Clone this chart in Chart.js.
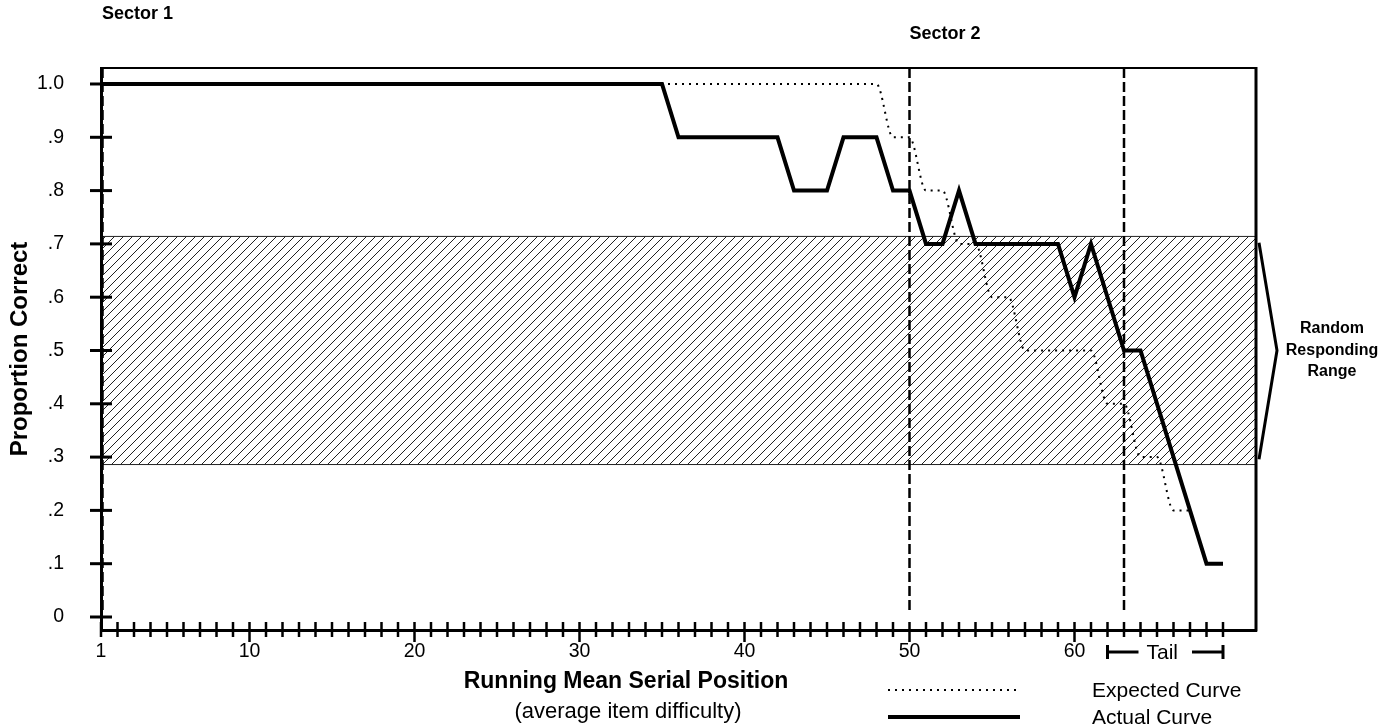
<!DOCTYPE html>
<html>
<head>
<meta charset="utf-8">
<script src="https://cdn.jsdelivr.net/npm/chart.js@4.4.0/dist/chart.umd.min.js"></script>
<style>
html, body { margin: 0; padding: 0; background: #fff; }
#chart { display: block; }
</style>
</head>
<body>
<canvas id="chart" width="1394" height="728"></canvas>
<script>
// curve vertices: running mean serial position -> proportion correct
var actualX = [1, 35, 36, 42, 43, 45, 46, 48, 49, 50, 51, 52, 53, 54, 59, 60, 61, 63, 64, 68, 69];
var actualY = [1.0, 1.0, 0.9, 0.9, 0.8, 0.8, 0.9, 0.9, 0.8, 0.8, 0.7, 0.7, 0.8, 0.7, 0.7, 0.6, 0.7, 0.5, 0.5, 0.1, 0.1];
var expectedX = [1, 48, 49, 50, 51, 52, 53, 54, 55, 56, 57, 61, 62, 63, 64, 65, 66, 67];
var expectedY = [1.0, 1.0, 0.9, 0.9, 0.8, 0.8, 0.7, 0.7, 0.6, 0.6, 0.5, 0.5, 0.4, 0.4, 0.3, 0.3, 0.2, 0.2];

var sectorLines = [1, 50, 63];
var sectorNames = ['Sector 1', 'Sector 2'];
var randomRange = [0.286, 0.714];
var tailRange = [62, 69];

var xTickLabels = [1, 10, 20, 30, 40, 50, 60];
var xLastTick = 69;
var yTickValues = [0, 0.1, 0.2, 0.3, 0.4, 0.5, 0.6, 0.7, 0.8, 0.9, 1.0];
var yTickLabels = ['0', '.1', '.2', '.3', '.4', '.5', '.6', '.7', '.8', '.9', '1.0'];

function toPoints(xs, ys) {
    return xs.map(function (x, i) { return { x: x, y: ys[i] }; });
}

var hatch = (function () {
    var c = document.createElement('canvas');
    c.width = 9; c.height = 9;
    var g = c.getContext('2d');
    g.strokeStyle = '#222';
    g.lineWidth = 1;
    g.beginPath();
    g.moveTo(-1, 10); g.lineTo(10, -1);
    g.moveTo(-1, 1); g.lineTo(1, -1);
    g.moveTo(8, 10); g.lineTo(10, 8);
    g.stroke();
    return c;
})();

var FONT = 'Liberation Sans, Arial, Helvetica, sans-serif';
Chart.defaults.font.family = FONT;
Chart.defaults.color = '#000';

function line(ctx, x1, y1, x2, y2) {
    ctx.beginPath();
    ctx.moveTo(x1, y1);
    ctx.lineTo(x2, y2);
    ctx.stroke();
}

var extras = {
    id: 'extras',
    beforeDatasetsDraw: function (chart) {
        var ctx = chart.ctx, a = chart.chartArea;
        var xs = chart.scales.x, ys = chart.scales.y;
        ctx.save();
        // random responding band
        var top = ys.getPixelForValue(randomRange[1]);
        var bot = ys.getPixelForValue(randomRange[0]);
        ctx.fillStyle = ctx.createPattern(hatch, 'repeat');
        ctx.fillRect(a.left + 2, top, a.right - a.left - 2, bot - top);
        ctx.strokeStyle = '#222';
        ctx.lineWidth = 1;
        line(ctx, a.left, top, a.right, top);
        line(ctx, a.left, bot, a.right, bot);
        // sector boundaries
        ctx.strokeStyle = '#000';
        ctx.lineWidth = 2.5;
        ctx.setLineDash([10, 4]);
        sectorLines.forEach(function (v, i) {
            var px = xs.getPixelForValue(v) + (i === 0 ? 1.5 : 0);
            line(ctx, px, a.top, px, ys.getPixelForValue(0.01));
        });
        ctx.restore();
    },
    afterDatasetsDraw: function (chart) {
        var ctx = chart.ctx, a = chart.chartArea;
        var xs = chart.scales.x, ys = chart.scales.y;
        ctx.save();
        ctx.strokeStyle = '#000';
        ctx.fillStyle = '#000';
        // frame top and right
        ctx.lineWidth = 2;
        line(ctx, a.left, a.top, a.right, a.top);
        ctx.lineWidth = 3;
        line(ctx, a.right, a.top - 1, a.right, a.bottom + 1.5);

        // crossing tick marks
        ctx.lineWidth = 2.5;
        xs.ticks.forEach(function (t) {
            var px = xs.getPixelForValue(t.value);
            var down = (t.value % 10 === 0) ? 12 : 7;
            line(ctx, px, a.bottom - 8, px, a.bottom + down);
        });
        ctx.lineWidth = 3;
        yTickValues.forEach(function (v) {
            var py = ys.getPixelForValue(v);
            line(ctx, a.left - 11, py, a.left + 11, py);
        });

        // bracket for random responding range
        var bTop = ys.getPixelForValue(randomRange[1] - 0.012);
        var bBot = ys.getPixelForValue(randomRange[0] + 0.01);
        var bMid = ys.getPixelForValue((randomRange[0] + randomRange[1]) / 2);
        ctx.lineWidth = 3;
        ctx.lineJoin = 'miter';
        ctx.beginPath();
        ctx.moveTo(a.right + 3, bTop);
        ctx.lineTo(a.right + 21, bMid);
        ctx.lineTo(a.right + 3, bBot);
        ctx.stroke();
        ctx.font = 'bold 16px ' + FONT;
        ctx.textAlign = 'center';
        ctx.textBaseline = 'middle';
        ctx.fillText('Random', a.right + 76, bMid - 22);
        ctx.fillText('Responding', a.right + 76, bMid);
        ctx.fillText('Range', a.right + 76, bMid + 21);

        // sector labels
        ctx.font = 'bold 18px ' + FONT;
        ctx.textAlign = 'left';
        ctx.fillText(sectorNames[0], xs.getPixelForValue(sectorLines[0]) + 1, 14);
        ctx.fillText(sectorNames[1], xs.getPixelForValue(sectorLines[1]), 34);

        // tail marker
        var t1 = xs.getPixelForValue(tailRange[0]);
        var t2 = xs.getPixelForValue(tailRange[1]);
        var ty = 652;
        ctx.lineWidth = 3;
        line(ctx, t1, ty - 7, t1, ty + 7);
        line(ctx, t2, ty - 7, t2, ty + 7);
        line(ctx, t1, ty, t1 + 31, ty);
        line(ctx, t2 - 31, ty, t2, ty);
        ctx.font = '21px ' + FONT;
        ctx.textAlign = 'center';
        ctx.fillText('Tail', (t1 + t2) / 2 - 3, ty + 1);

        // x axis title
        ctx.font = 'bold 23px ' + FONT;
        ctx.textBaseline = 'alphabetic';
        ctx.fillText('Running Mean Serial Position', 626, 688);
        ctx.font = '22px ' + FONT;
        ctx.fillText('(average item difficulty)', 628, 718);

        // legend
        var ds = chart.data.datasets;
        var rows = [[ds[0], 690], [ds[1], 717]];
        rows.forEach(function (r) {
            ctx.save();
            ctx.lineWidth = r[0].borderWidth;
            ctx.setLineDash(r[0].borderDash || []);
            line(ctx, 888, r[1], 1020, r[1]);
            ctx.restore();
            ctx.font = '21px ' + FONT;
            ctx.textAlign = 'left';
            ctx.textBaseline = 'middle';
            ctx.fillText(r[0].label, 1092, r[1] + 1);
        });
        ctx.restore();
    }
};

var chart = new Chart(document.getElementById('chart'), {
    type: 'line',
    data: {
        datasets: [{
            label: 'Expected Curve',
            data: toPoints(expectedX, expectedY),
            borderColor: '#000',
            borderWidth: 2,
            borderDash: [2, 5],
            cubicInterpolationMode: 'monotone',
            pointRadius: 0,
            fill: false
        }, {
            label: 'Actual Curve',
            data: toPoints(actualX, actualY),
            borderColor: '#000',
            borderWidth: 4,
            borderJoinStyle: 'miter',
            tension: 0,
            pointRadius: 0,
            fill: false
        }]
    },
    plugins: [extras],
    options: {
        responsive: false,
        animation: false,
        layout: { padding: { left: 0, top: 68, right: 138, bottom: 0 } },
        plugins: { legend: { display: false }, tooltip: { enabled: false } },
        scales: {
            x: {
                type: 'linear',
                min: 1,
                max: 71,
                afterFit: function (s) { s.height = 98; },
                afterBuildTicks: function (s) {
                    s.ticks = s.ticks.filter(function (t) { return t.value <= xLastTick; });
                },
                grid: { display: false, drawTicks: false },
                border: { display: true, color: '#000', width: 3 },
                ticks: {
                    stepSize: 1,
                    autoSkip: false,
                    maxRotation: 0,
                    padding: 10,
                    color: '#000',
                    font: { size: 19.5 },
                    callback: function (v) { return xTickLabels.indexOf(v) >= 0 ? String(v) : ''; }
                }
            },
            y: {
                min: -0.0244,
                max: 1.03,
                afterFit: function (s) { s.width = 101; },
                afterBuildTicks: function (s) {
                    s.ticks = yTickValues.map(function (v) { return { value: v }; });
                },
                grid: { display: false, drawTicks: false },
                border: { display: true, color: '#000', width: 3 },
                title: {
                    display: true,
                    text: 'Proportion Correct',
                    color: '#000',
                    font: { size: 24, weight: 'bold' },
                    padding: { top: 6, bottom: 0 }
                },
                ticks: {
                    padding: 37,
                    color: '#000',
                    font: { size: 19.5 },
                    callback: function (v) { return yTickLabels[yTickValues.indexOf(v)]; }
                }
            }
        }
    }
});
</script>
</body>
</html>
